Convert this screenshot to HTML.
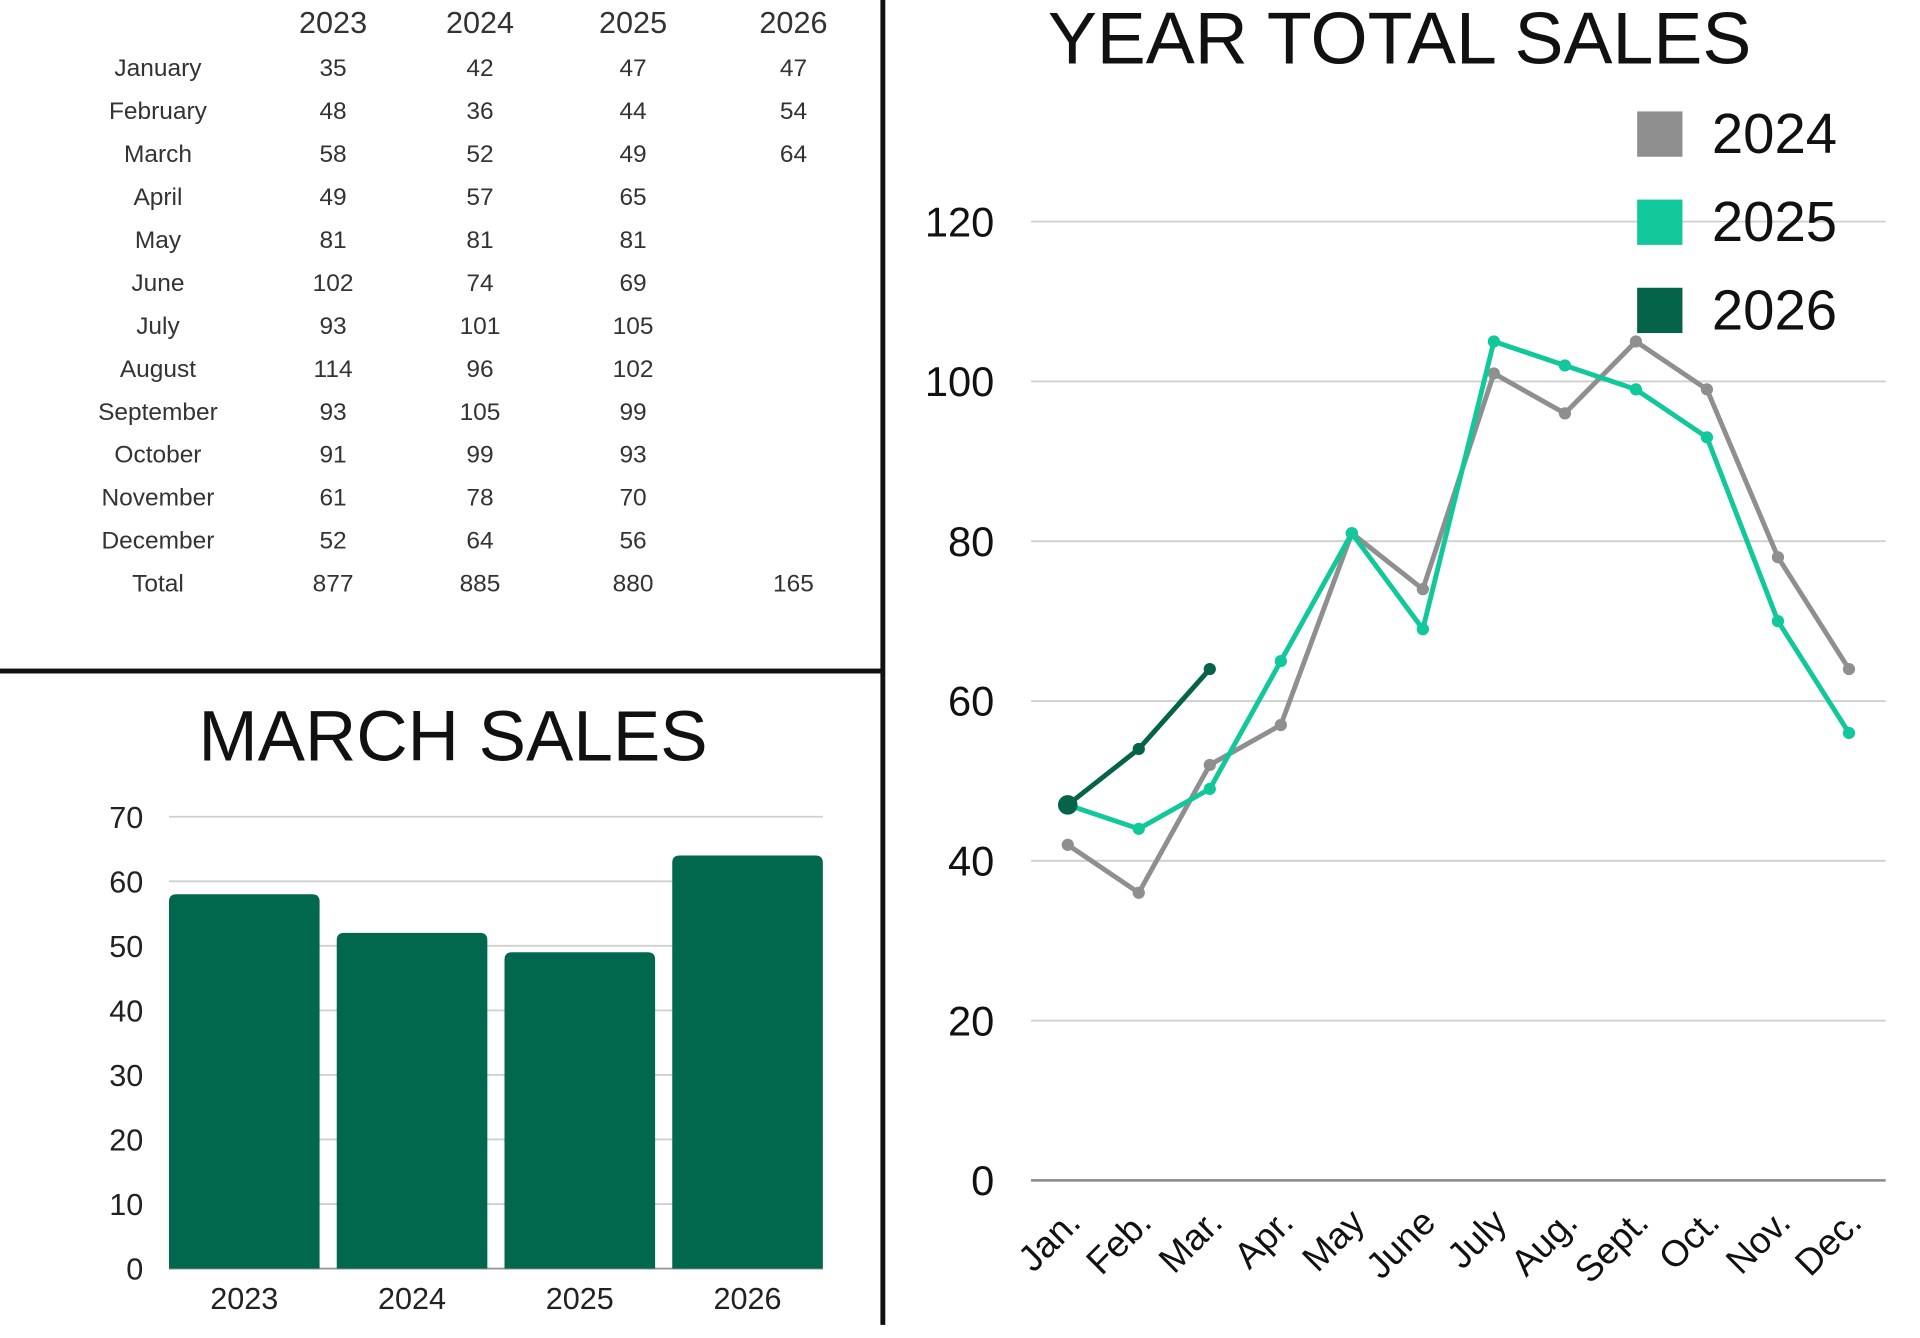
<!DOCTYPE html>
<html><head><meta charset="utf-8"><style>
html,body{margin:0;padding:0;background:#fff;overflow:hidden}
svg{display:block}
text{font-family:"Liberation Sans",sans-serif}
</style></head><body>
<svg id="s" width="1920" height="1338" viewBox="0 0 1568 1092.7" preserveAspectRatio="none" xmlns="http://www.w3.org/2000/svg">
<rect x="0" y="0" width="1568" height="1093" fill="#fff"/>
<rect x="719" y="0" width="4" height="1082" fill="#111"/>
<rect x="0" y="546" width="720" height="4" fill="#111"/>
<g id="table"></g>
<g id="bar"></g>
<g id="line"></g>
</svg>
<script>
const NS="http://www.w3.org/2000/svg";
const months=["January","February","March","April","May","June","July","August","September","October","November","December"];
const tableYears=["2023","2024","2025","2026"];
const t2023=[35,48,58,49,81,102,93,114,93,91,61,52];
const t2024=[42,36,52,57,81,74,101,96,105,99,78,64];
const t2025=[47,44,49,65,81,69,105,102,99,93,70,56];
const t2026=[47,54,64];
const totals=[877,885,880,165];
const barCats=["2023","2024","2025","2026"];
const barVals=[58,52,49,64];
const barTicks=[0,10,20,30,40,50,60,70];
const lineCats=["Jan.","Feb.","Mar.","Apr.","May","June","July","Aug.","Sept.","Oct.","Nov.","Dec."];
const s2024=[42,36,52,57,81,74,101,96,105,99,78,64];
const s2025=[47,44,49,65,81,69,105,102,99,93,70,56];
const s2026=[47,54,64];
const lineTicks=[0,20,40,60,80,100,120];
const legendYears=["2024","2025","2026"];

function el(tag,attrs,parent,txt){const e=document.createElementNS(NS,tag);for(const k in attrs)e.setAttribute(k,attrs[k]);if(txt!==undefined)e.textContent=txt;parent.appendChild(e);return e;}

// table
const tg=document.getElementById('table');
const colX=[272,392,517,648];
tableYears.forEach((y,i)=>{const e=el('text',{x:colX[i],y:27,'font-size':25,'text-anchor':'middle',fill:'#333'},tg,y);

});
const cols=[t2023,t2024,t2025,t2026];
months.forEach((m,r)=>{const ry=62+r*35.1;
const e=el('text',{x:129,y:ry,'font-size':20,'text-anchor':'middle',fill:'#333'},tg,m);


cols.forEach((c,i)=>{if(c[r]!==undefined){const v=el('text',{x:colX[i],y:ry,'font-size':20,'text-anchor':'middle',fill:'#333'},tg,c[r]);

}});});
const tt=el('text',{x:129,y:483,'font-size':20,'text-anchor':'middle',fill:'#333'},tg,'Total');


totals.forEach((v,i)=>{const e=el('text',{x:colX[i],y:483,'font-size':20,'text-anchor':'middle',fill:'#333'},tg,v);

});

// bar chart
const bg=document.getElementById('bar');
const bt=el('text',{x:370,y:621,'font-size':58,'text-anchor':'middle',fill:'#111'},bg,'MARCH SALES');


const by=v=>1036-(v/70)*369;
const bx0=138,bstep=137,bw=123;
barTicks.forEach(t=>{const l=el('line',{x1:138,x2:672,y1:by(t),y2:by(t),stroke:t===0?'#999':'#d0d0d0','stroke-width':1.5},bg);


const e=el('text',{x:117,y:by(t)+9,'font-size':25,'text-anchor':'end',fill:'#222'},bg,t);

});
barVals.forEach((v,i)=>{const x=bx0+i*bstep,y=by(v),h=by(0)-y,r=6;
const p=el('path',{d:`M${x},${by(0)}V${y+r}Q${x},${y} ${x+r},${y}H${x+bw-r}Q${x+bw},${y} ${x+bw},${y+r}V${by(0)}Z`,fill:'#02684d'},bg);


const e=el('text',{x:x+bw/2,y:1069,'font-size':25,'text-anchor':'middle',fill:'#222'},bg,barCats[i]);

});

// line chart
const lg=document.getElementById('line');
const lt=el('text',{x:1143,y:52,'font-size':60,'text-anchor':'middle',fill:'#111'},lg,'YEAR TOTAL SALES');


const ly=v=>964-(v/120)*783;
const lx=i=>872+i*58;
lineTicks.forEach(t=>{const l=el('line',{x1:842,x2:1540,y1:ly(t),y2:ly(t),stroke:t===0?'#888':'#cfcfcf','stroke-width':t===0?2:1.5},lg);


const e=el('text',{x:812,y:ly(t)+12,'font-size':34,'text-anchor':'end',fill:'#111'},lg,t);

});
lineCats.forEach((c,i)=>{const x=lx(i)+12,y=1000;
const e=el('text',{x:x,y:y,'font-size':30,'text-anchor':'end',fill:'#111',transform:`rotate(-45 ${x} ${y})`},lg,c);

});
function series(vals,color,name,big){
const g=el('g',{},lg);


const p=el('polyline',{points:vals.map((v,i)=>lx(i)+','+ly(v)).join(' '),fill:'none',stroke:color,'stroke-width':4,'stroke-linejoin':'round'},g);


vals.forEach((v,i)=>{const c=el('circle',{cx:lx(i),cy:ly(v),r:(big&&i===0)?8:5,fill:color},g);

});}
series(s2024,'#8f8f8f','2024');
series(s2025,'#10c89a','2025');
series(s2026,'#05634a','2026',true);
const legColors=['#8f8f8f','#10c89a','#05634a'];
legendYears.forEach((y,i)=>{const yy=91+i*72;
const r=el('rect',{x:1337,y:yy,width:37,height:37,fill:legColors[i]},lg);


const e=el('text',{x:1398,y:yy+34,'font-size':46,fill:'#111'},lg,y);

});
</script>
</body></html>
